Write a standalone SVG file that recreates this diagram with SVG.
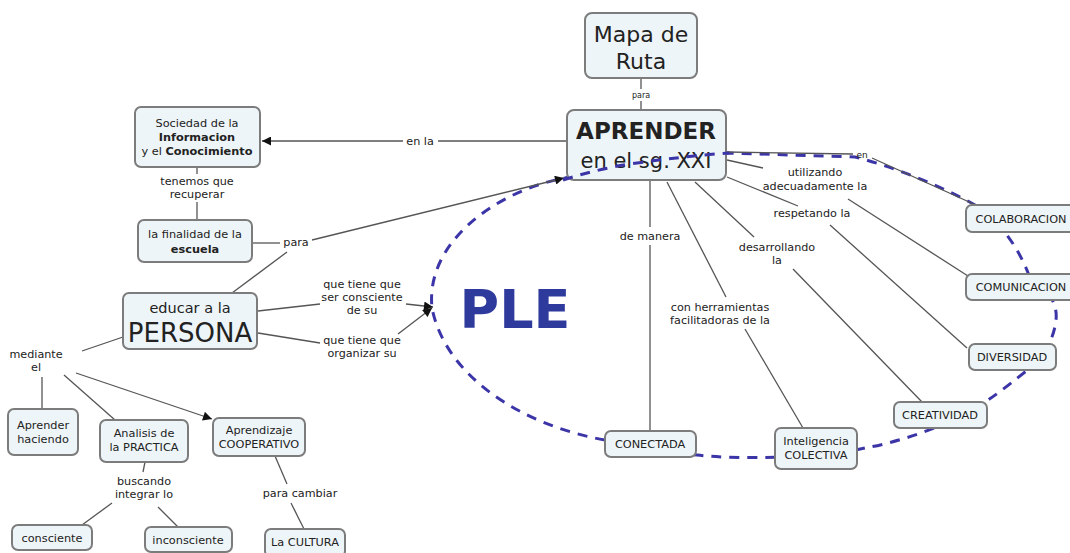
<svg xmlns="http://www.w3.org/2000/svg" width="1070" height="553" viewBox="0 0 1070 553">
<defs>
<marker id="arr" viewBox="0 0 10 10" refX="10" refY="5" markerWidth="11" markerHeight="9" markerUnits="userSpaceOnUse" orient="auto">
<path d="M0,0 L10,5 L0,10 z" fill="#111"/>
</marker>
<style>
.n rect{fill:#eef5f8;stroke:#7c7c7c;stroke-width:2}
text{font-family:"DejaVu Sans","Liberation Sans",sans-serif;fill:#222;text-anchor:middle}
.s{font-size:11.3px}
.l{font-size:11.2px}
.c line,.c path{stroke:#555;stroke-width:1.3;fill:none}
.d{stroke:#3c35a8;stroke-width:3;stroke-dasharray:10 8;fill:none}
</style>
</defs>
<rect width="1070" height="553" fill="#fff"/>

<g id="ple-outline">
<path class="d" d="M605,440 C520,425 445,375 432,308 C425,240 500,190 565,178 C620,165 670,156 727,153 L855,157 C895,167 945,188 975,205 C1000,220 1020,250 1030,278 C1045,288 1058,300 1056,320 C1054,340 1042,360 1025,372 C1005,388 992,398 980,405 C950,425 900,442 865,448 C820,458 740,460 697,455 C660,452 630,447 605,440 Z"/>
</g>

<g id="connectors" class="c">
<line x1="641" y1="78" x2="641" y2="89"/>
<line x1="641" y1="101" x2="641" y2="110"/>
<line x1="567" y1="141" x2="438" y2="141"/>
<line x1="403" y1="141" x2="262" y2="141" marker-end="url(#arr)"/>
<line x1="197" y1="167" x2="197" y2="174"/>
<line x1="197" y1="202" x2="197" y2="220"/>
<line x1="252" y1="243" x2="280" y2="243"/>
<line x1="312" y1="240" x2="564" y2="178" marker-end="url(#arr)"/>
<line x1="232" y1="293" x2="287" y2="252"/>
<line x1="258" y1="311" x2="320" y2="304"/>
<line x1="406" y1="304" x2="433" y2="307" marker-end="url(#arr)"/>
<line x1="258" y1="333" x2="320" y2="343"/>
<line x1="398" y1="334" x2="432" y2="308" marker-end="url(#arr)"/>
<line x1="123" y1="337" x2="82" y2="351"/>
<line x1="42" y1="377" x2="42" y2="409"/>
<line x1="64" y1="375" x2="115" y2="420"/>
<line x1="76" y1="373" x2="212" y2="419" marker-end="url(#arr)"/>
<line x1="145" y1="462" x2="143" y2="472"/>
<line x1="112" y1="503" x2="82" y2="525"/>
<line x1="158" y1="507" x2="178" y2="527"/>
<line x1="275" y1="456" x2="287" y2="484"/>
<line x1="291" y1="503" x2="304" y2="529"/>
<line x1="726" y1="152" x2="853" y2="154"/>
<line x1="872" y1="158" x2="978" y2="206"/>
<line x1="727" y1="160" x2="763" y2="168"/>
<line x1="848" y1="199" x2="968" y2="276"/>
<line x1="727" y1="177" x2="798" y2="206"/>
<line x1="830" y1="225" x2="967" y2="348"/>
<line x1="695" y1="182" x2="754" y2="237"/>
<line x1="793" y1="269" x2="922" y2="402"/>
<line x1="650" y1="180" x2="650" y2="227"/>
<line x1="650" y1="245" x2="650" y2="431"/>
<line x1="667" y1="182" x2="726" y2="297"/>
<line x1="745" y1="329" x2="803" y2="428"/>
</g>

<g id="labels">
<text x="641" y="98" style="font-size:8px">para</text>
<text x="420" y="145" class="l">en la</text>
<text x="197" y="185" class="l">tenemos que</text>
<text x="197" y="198" class="l">recuperar</text>
<text x="296" y="246" class="l">para</text>
<text x="362" y="288" class="l">que tiene que</text>
<text x="362" y="301" class="l">ser consciente</text>
<text x="362" y="314" class="l">de su</text>
<text x="362" y="344" class="l">que tiene que</text>
<text x="362" y="357" class="l">organizar su</text>
<text x="36" y="358" class="l">mediante</text>
<text x="36" y="371" class="l">el</text>
<text x="144" y="485" class="l">buscando</text>
<text x="144" y="498" class="l">integrar lo</text>
<text x="300" y="497" class="l">para cambiar</text>
<text x="862" y="158" style="font-size:9px">en</text>
<text x="815" y="176" class="l">utilizando</text>
<text x="815" y="190" class="l">adecuadamente la</text>
<text x="812" y="217" class="l">respetando la</text>
<text x="777" y="251" class="l">desarrollando</text>
<text x="777" y="264" class="l">la</text>
<text x="650" y="240" class="l">de manera</text>
<text x="720" y="311" class="l">con herramientas</text>
<text x="720" y="324" class="l">facilitadoras de la</text>
</g>

<text x="515" y="328" style="font-size:54px;font-weight:bold;fill:#2e3a9c">PLE</text>

<g id="n-mapa" class="n"><rect x="585" y="13" width="112" height="65" rx="7"/>
<text x="641" y="42" style="font-size:22px">Mapa de</text><text x="641" y="69" style="font-size:22px">Ruta</text></g>

<g id="n-aprender" class="n"><rect x="567" y="110" width="159" height="70" rx="7"/>
<text x="646" y="139" style="font-size:23px;font-weight:bold">APRENDER</text>
<text x="646" y="168" style="font-size:21px">en el sg. XXI</text></g>
<path class="d" d="M563,180 C585,173 605,168 630,164 C665,159 700,155 729,153"/>

<g id="n-sociedad" class="n"><rect x="135" y="107" width="125" height="60" rx="6"/>
<text x="197" y="127" class="s">Sociedad de la</text>
<text x="197" y="141" class="s" style="font-weight:bold">Informacion</text>
<text x="197" y="155" class="s">y el <tspan style="font-weight:bold">Conocimiento</tspan></text></g>

<g id="n-finalidad" class="n"><rect x="138" y="220" width="114" height="42" rx="6"/>
<text x="195" y="238" class="s">la finalidad de la</text>
<text x="195" y="253" class="s" style="font-weight:bold">escuela</text></g>

<g id="n-persona" class="n"><rect x="123" y="293" width="134" height="56" rx="6"/>
<text x="190" y="313" style="font-size:14.5px">educar a la</text>
<text x="190" y="342" style="font-size:26px">PERSONA</text></g>

<g id="n-haciendo" class="n"><rect x="8" y="409" width="70" height="46" rx="6"/>
<text x="43" y="429" class="s">Aprender</text><text x="43" y="443" class="s">haciendo</text></g>

<g id="n-analisis" class="n"><rect x="100" y="420" width="88" height="42" rx="6"/>
<text x="144" y="437" class="s">Analisis de</text><text x="144" y="451" class="s">la PRACTICA</text></g>

<g id="n-aprendizaje" class="n"><rect x="213" y="418" width="92" height="38" rx="6"/>
<text x="259" y="434" class="s">Aprendizaje</text><text x="259" y="448" class="s">COOPERATIVO</text></g>

<g id="n-consciente" class="n"><rect x="12" y="525" width="80" height="25" rx="6"/>
<text x="52" y="542" class="s">consciente</text></g>

<g id="n-inconsciente" class="n"><rect x="145" y="527" width="87" height="25" rx="6"/>
<text x="188" y="544" class="s">inconsciente</text></g>

<g id="n-cultura" class="n"><rect x="265" y="529" width="80" height="28" rx="6"/>
<text x="305" y="546" class="s">La CULTURA</text></g>

<g id="n-colaboracion" class="n"><rect x="966" y="205" width="112" height="27" rx="6"/>
<text x="1021" y="223" class="s">COLABORACION</text></g>

<g id="n-comunicacion" class="n"><rect x="966" y="274" width="112" height="26" rx="6"/>
<text x="1021" y="291" class="s">COMUNICACION</text></g>

<g id="n-diversidad" class="n"><rect x="969" y="344" width="87" height="26" rx="6"/>
<text x="1012" y="361" class="s">DIVERSIDAD</text></g>

<g id="n-creatividad" class="n"><rect x="894" y="402" width="93" height="26" rx="6"/>
<text x="940" y="419" class="s">CREATIVIDAD</text></g>

<g id="n-inteligencia" class="n"><rect x="775" y="428" width="82" height="41" rx="6"/>
<text x="816" y="445" class="s">Inteligencia</text><text x="816" y="459" class="s">COLECTIVA</text></g>

<g id="n-conectada" class="n"><rect x="605" y="431" width="91" height="26" rx="6"/>
<text x="650" y="448" class="s">CONECTADA</text></g>
</svg>
